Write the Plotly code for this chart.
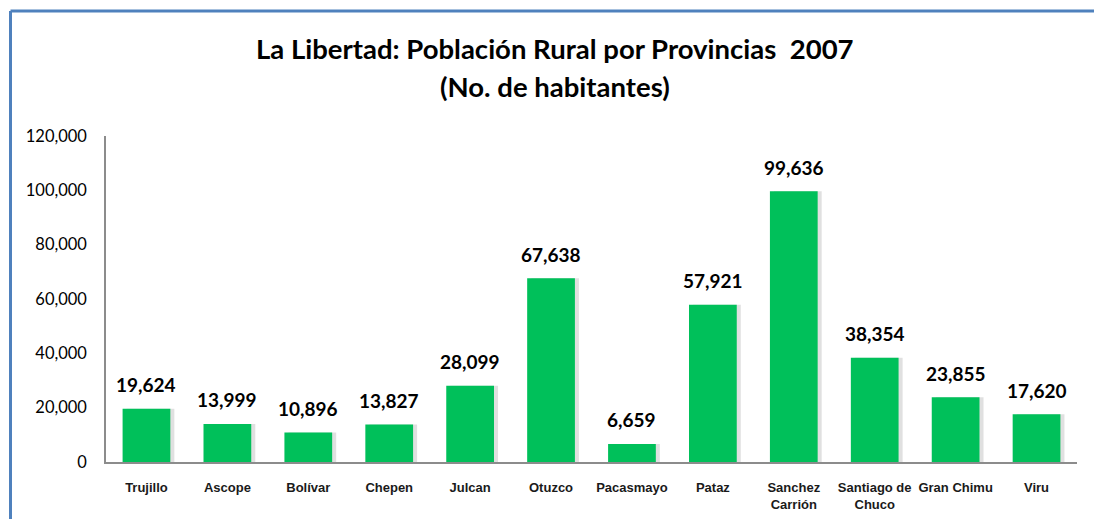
import plotly.graph_objects as go

categories = ["Trujillo", "Ascope", "Bolívar", "Chepen", "Julcan", "Otuzco", "Pacasmayo",
              "Pataz", "Sanchez<br>Carrión", "Santiago de<br>Chuco", "Gran Chimu", "Viru"]
values = [19624, 13999, 10896, 13827, 28099, 67638, 6659, 57921, 99636, 38354, 23855, 17620]
value_labels = ["19,624", "13,999", "10,896", "13,827", "28,099", "67,638", "6,659",
                "57,921", "99,636", "38,354", "23,855", "17,620"]
y_ticks = [0, 20000, 40000, 60000, 80000, 100000, 120000]
y_tick_labels = ["0", "20,000", "40,000", "60,000", "80,000", "100,000", "120,000"]
title_line1 = "La Libertad: Población Rural por Provincias  2007"
title_line2 = "(No. de habitantes)"

W, H = 1094, 519
L, R, T, B = 106, 17, 136, 57
pw, ph = W - L - R, H - T - B

def px_x(px):
    return (px - L) / pw

def px_y(py):
    return (H - B - py) / ph

bw = 0.59
fig = go.Figure()
# soft shadow
fig.add_trace(go.Bar(x=categories, y=values, width=bw, offset=-bw / 2 + 0.05,
                     marker=dict(color="rgba(0,0,0,0.12)", line=dict(width=0)),
                     hoverinfo="skip", showlegend=False))
fig.add_trace(go.Bar(x=categories, y=values, width=bw, offset=-bw / 2,
                     marker=dict(color="#00C05A", line=dict(width=0)),
                     showlegend=False))

annotations = []
for c, v, lab in zip(categories, values, value_labels):
    annotations.append(dict(x=c, y=v, text="<b>" + lab + "</b>", showarrow=False,
                            xref="x", yref="y", yanchor="middle", yshift=24,
                            font=dict(family="Lato", size=19, color="#000000")))
annotations.append(dict(x=px_x(555), y=px_y(48), xref="paper", yref="paper",
                        text="<b>" + title_line1 + "</b>", showarrow=False,
                        xanchor="center", yanchor="middle",
                        font=dict(family="Lato", size=27.5, color="#000000")))
annotations.append(dict(x=px_x(555), y=px_y(86), xref="paper", yref="paper",
                        text="<b>" + title_line2 + "</b>", showarrow=False,
                        xanchor="center", yanchor="middle",
                        font=dict(family="Lato", size=27.5, color="#000000")))

shapes = [
    dict(type="line", xref="paper", yref="paper", x0=px_x(10.5), x1=px_x(1110),
         y0=px_y(11), y1=px_y(11), line=dict(color="#4F81BD", width=3)),
    dict(type="line", xref="paper", yref="paper", x0=px_x(10.5), x1=px_x(10.5),
         y0=px_y(11), y1=px_y(540), line=dict(color="#4F81BD", width=3)),
]

fig.update_layout(
    width=W, height=H,
    margin=dict(l=L, r=R, t=T, b=B),
    paper_bgcolor="white", plot_bgcolor="white",
    barmode="overlay",
    annotations=annotations,
    shapes=shapes,
    xaxis=dict(type="category", showline=True, linecolor="#8C8C8C", linewidth=1.5,
               showgrid=False, ticks="outside", ticklen=13, tickcolor="rgba(0,0,0,0)",
               tickfont=dict(family="Liberation Sans", size=13, color="#1a1a1a"),
               tickangle=0, range=[-0.5, len(categories) - 0.5],
               tickprefix="<b>", ticksuffix="</b>", automargin=False),
    yaxis=dict(range=[0, 120000], tickvals=y_ticks, ticktext=y_tick_labels,
               showline=True, linecolor="#8C8C8C", linewidth=1.5, showgrid=False,
               zeroline=False, ticks="outside", ticklen=14, tickcolor="rgba(0,0,0,0)",
               tickfont=dict(family="Lato", size=16.5, color="#000000"), automargin=False),
    font=dict(family="Lato"),
)

fig.write_html("out.html", config={"displayModeBar": False},
               post_script="document.body.style.margin='0';document.body.style.padding='0';")
